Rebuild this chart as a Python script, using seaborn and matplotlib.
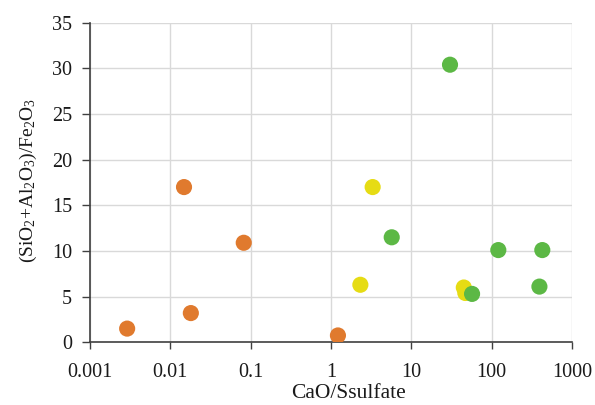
import matplotlib
matplotlib.use("Agg")
import matplotlib.pyplot as plt
import seaborn as sns
import pandas as pd
from matplotlib.ticker import FixedLocator, FixedFormatter, NullLocator

sns.set_theme(style="white")
plt.rcParams['font.family'] = ['Liberation Serif', 'DejaVu Serif']
plt.rcParams['mathtext.default'] = 'regular'

# Data
orange_x = [0.0029, 0.0148, 0.018, 0.082, 1.22]
orange_y = [1.5, 17.0, 3.2, 10.9, 0.75]
yellow_x = [3.3, 2.32, 45, 47]
yellow_y = [17.0, 6.3, 6.0, 5.4]
green_x = [30.3, 5.7, 57, 121, 427, 393]
green_y = [30.4, 11.5, 5.3, 10.1, 10.1, 6.1]

groups = ["orange", "yellow", "green"]
colors = ["#E07A2E", "#E6DC14", "#5CB845"]

df = pd.concat([
    pd.DataFrame({"x": orange_x, "y": orange_y, "g": "orange"}),
    pd.DataFrame({"x": yellow_x, "y": yellow_y, "g": "yellow"}),
    pd.DataFrame({"x": green_x, "y": green_y, "g": "green"}),
], ignore_index=True)

xticks = [0.001, 0.01, 0.1, 1, 10, 100, 1000]
xticklabels = ["0.001", "0.01", "0.1", "1", "10", "100", "1000"]
yticks = [0, 5, 10, 15, 20, 25, 30, 35]

fig = plt.figure(figsize=(5.95, 4.05), dpi=100)
ax = fig.add_axes([90/595, 1 - 342.3/405, (572 - 90)/595, (342.3 - 22.7)/405])

sns.scatterplot(data=df, x="x", y="y", hue="g", hue_order=groups,
                palette=dict(zip(groups, colors)), s=135, linewidth=0,
                legend=False, ax=ax, zorder=3, alpha=1)

ax.set_xscale("log")
ax.set_xlim(0.001, 1000)
ax.set_ylim(0, 35)
ax.xaxis.set_major_locator(FixedLocator(xticks))
ax.xaxis.set_major_formatter(FixedFormatter(xticklabels))
ax.xaxis.set_minor_locator(NullLocator())
ax.set_yticks(yticks)

ax.grid(True, color="#d9d9d9", linewidth=1)
ax.set_axisbelow(True)
for s in ["top", "right"]:
    ax.spines[s].set_visible(False)
for s in ["left", "bottom"]:
    ax.spines[s].set_color("#404040")
    ax.spines[s].set_linewidth(1.2)

ax.tick_params(axis="y", which="major", direction="out", length=6, width=1,
               color="#404040", labelsize=14.5, labelcolor="#1a1a1a", left=True, pad=7)
ax.tick_params(axis="x", which="major", direction="out", length=5, width=1,
               color="#404040", labelsize=14.5, labelcolor="#1a1a1a", bottom=True, pad=10)

ax.set_xlabel("CaO/Ssulfate", fontsize=15.5, color="#1a1a1a")
ax.set_ylabel("(SiO$_2$+Al$_2$O$_3$)/Fe$_2$O$_3$", fontsize=14, color="#1a1a1a")
ax.xaxis.set_label_coords((349 - 90) / 482, (342.3 - 384) / 319.6)
ax.yaxis.set_label_coords((39 - 90) / 482, (342.3 - 180) / 319.6)

fig.savefig("out.png", dpi=100)
